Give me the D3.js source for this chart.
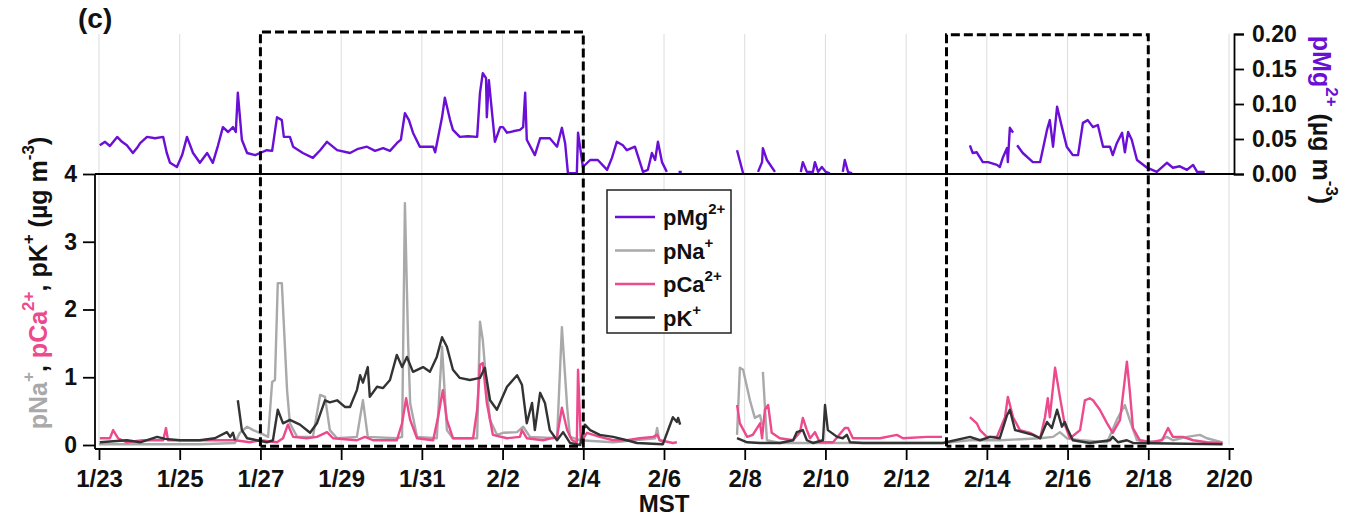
<!DOCTYPE html>
<html>
<head>
<meta charset="utf-8">
<script src="https://cdn.jsdelivr.net/npm/d3@7"></script>
<style>
body { margin: 0; background: #fff; }
text { font-family: "Liberation Sans", Arial, sans-serif; font-weight: bold; }
</style>
</head>
<body>
<svg width="1345" height="521"></svg>
<script>
// time axis: days since 1/23 (MST)
const dayTicks = [0, 2, 4, 6, 8, 10, 12, 14, 16, 18, 20, 22, 24, 26, 28];
const dayLabels = ["1/23", "1/25", "1/27", "1/29", "1/31", "2/2", "2/4", "2/6",
                   "2/8", "2/10", "2/12", "2/14", "2/16", "2/18", "2/20"];
const leftTicks = [0, 1, 2, 3, 4];
const rightTicks = [0, 0.05, 0.10, 0.15, 0.20];

// highlighted periods (days since 1/23)
const periods = [[4, 12], [21, 26]];

// [day, value]; null = gap in the record
const pMg = [
  [0.02,0.041],[0.15,0.046],[0.27,0.040],[0.45,0.053],[0.57,0.046],[0.69,0.041],[0.84,0.030],
  [0.94,0.037],[1.02,0.044],[1.19,0.053],[1.39,0.051],[1.59,0.053],[1.68,0.030],[1.76,0.016],
  [1.93,0.010],[2.06,0.027],[2.18,0.053],[2.33,0.030],[2.50,0.016],[2.68,0.030],[2.82,0.016],
  [2.95,0.041],[3.07,0.067],[3.20,0.060],[3.32,0.067],[3.39,0.060],[3.44,0.116],[3.54,0.049],
  [3.67,0.030],[3.87,0.027],[3.99,0.030],[4.16,0.034],[4.29,0.033],[4.41,0.081],[4.53,0.077],
  [4.58,0.053],[4.73,0.053],[4.81,0.039],[5.05,0.030],[5.30,0.023],[5.48,0.034],[5.65,0.046],
  [5.90,0.034],[6.22,0.030],[6.42,0.036],[6.64,0.039],[6.84,0.033],[7.04,0.037],[7.21,0.033],
  [7.38,0.044],[7.48,0.049],[7.58,0.087],[7.68,0.077],[7.78,0.059],[7.95,0.039],[8.28,0.039],
  [8.33,0.031],[8.50,0.081],[8.57,0.109],[8.70,0.077],[8.77,0.063],[8.94,0.053],[9.14,0.054],
  [9.37,0.053],[9.44,0.116],[9.51,0.144],[9.59,0.137],[9.61,0.081],[9.66,0.134],[9.74,0.087],
  [9.81,0.046],[9.94,0.067],[10.01,0.067],[10.11,0.059],[10.26,0.061],[10.43,0.063],[10.51,0.067],
  [10.56,0.116],[10.60,0.049],[10.80,0.027],[10.93,0.051],[11.17,0.051],[11.35,0.039],[11.47,0.066],
  [11.55,0.044],[11.62,0.001],[11.84,0.001],[11.87,0.059],[11.99,0.010],[12.17,0.020],[12.36,0.020],
  [12.59,0.006],[12.71,0.023],[12.83,0.046],[12.98,0.041],[13.08,0.034],[13.28,0.039],[13.48,0.003],
  [13.60,0.006],[13.70,0.030],[13.78,0.020],[13.85,0.046],[13.95,0.017],[14.07,0.003],null,
  [14.36,0.003],[14.44,0.003],null,
  [15.81,0.034],[15.96,0.001],null,
  [16.33,0.003],[16.43,0.017],[16.45,0.037],[16.55,0.020],[16.75,0.003],null,
  [17.39,0.003],[17.44,0.017],[17.54,0.003],[17.69,0.003],[17.74,0.017],[17.82,0.003],[17.91,0.010],
  [18.01,0.003],[18.11,0.001],null,
  [18.43,0.003],[18.48,0.020],[18.56,0.003],[18.66,0.001],null,
  [21.58,0.041],[21.65,0.030],[21.75,0.031],[21.90,0.017],[22.03,0.017],[22.25,0.013],[22.32,0.010],
  [22.40,0.024],[22.50,0.037],[22.52,0.017],[22.57,0.066],[22.65,0.059],null,
  [22.75,0.041],[22.89,0.030],[23.14,0.017],[23.32,0.017],[23.49,0.063],[23.56,0.077],[23.64,0.039],
  [23.74,0.096],[23.86,0.067],[23.98,0.039],[24.13,0.027],[24.26,0.027],[24.38,0.073],[24.50,0.077],
  [24.63,0.067],[24.75,0.070],[24.88,0.039],[25.05,0.039],[25.12,0.027],[25.22,0.044],[25.35,0.059],
  [25.42,0.031],[25.50,0.060],[25.59,0.049],[25.72,0.020],[25.97,0.009],[26.21,0.003],[26.46,0.016],
  [26.61,0.009],[26.78,0.011],[26.96,0.006],[27.11,0.013],[27.21,0.003],[27.40,0.003]
];

const pNa = [
  [0.00,0.01],[1.26,0.01],[2.50,0.01],[3.37,0.03],[3.49,0.18],[3.67,0.27],[3.82,0.22],[3.99,0.18],
  [4.19,0.12],[4.29,0.93],[4.36,0.96],[4.43,2.39],[4.53,2.39],[4.66,0.81],[4.73,0.32],[4.91,0.12],
  [5.30,0.12],[5.48,0.74],[5.60,0.71],[5.72,0.22],[5.90,0.10],[6.39,0.12],[6.54,0.66],[6.66,0.12],
  [7.38,0.10],[7.51,0.12],[7.58,3.57],[7.66,1.51],[7.71,0.62],[7.88,0.12],[8.37,0.10],[8.50,1.45],
  [8.62,0.22],[8.77,0.10],[9.37,0.10],[9.44,1.82],[9.51,1.55],[9.61,0.81],[9.69,0.37],[9.86,0.15],
  [10.01,0.18],[10.36,0.19],[10.51,0.27],[10.68,0.12],[11.35,0.10],[11.47,1.74],[11.60,0.56],
  [11.67,0.12],[11.92,0.07],[12.74,0.04],[13.78,0.10],[13.83,0.25],[13.88,0.07],[14.00,0.04],null,
  [15.81,0.15],[15.88,1.14],[15.96,1.11],[16.13,0.66],[16.25,0.40],[16.38,0.44],[16.43,0.30],null,
  [16.45,1.08],[16.55,0.07],[16.87,0.03],[17.86,0.03],[18.61,0.03],[20.91,0.03],[21.58,0.07],
  [22.32,0.07],[23.32,0.10],[23.64,0.12],[23.81,0.19],[23.98,0.10],[24.31,0.07],[24.98,0.04],
  [25.22,0.37],[25.42,0.59],[25.54,0.37],[25.72,0.07],[26.21,0.04],[26.46,0.12],[26.61,0.07],
  [26.96,0.12],[27.28,0.15],[27.45,0.10],[27.84,0.04]
];

const pCa = [
  [0.02,0.10],[0.27,0.10],[0.35,0.22],[0.47,0.10],[0.69,0.04],[1.09,0.07],[1.59,0.07],[1.66,0.25],
  [1.71,0.07],[2.33,0.07],[3.37,0.07],[3.74,0.04],[3.99,0.07],[4.41,0.04],[4.56,0.10],[4.68,0.30],
  [4.81,0.12],[5.15,0.10],[5.40,0.12],[5.65,0.19],[5.80,0.10],[6.39,0.07],[6.59,0.12],[6.79,0.07],
  [7.38,0.07],[7.51,0.32],[7.61,0.69],[7.71,0.37],[7.88,0.10],[8.28,0.07],[8.40,0.41],[8.52,0.81],
  [8.62,0.37],[8.77,0.10],[9.27,0.10],[9.37,0.52],[9.44,1.18],[9.51,1.21],[9.61,0.62],[9.76,0.15],
  [10.11,0.10],[10.43,0.12],[10.48,0.22],[10.60,0.10],[11.00,0.07],[11.35,0.12],[11.47,0.55],
  [11.60,0.22],[11.72,0.07],[11.84,0.04],[11.87,1.11],[11.94,0.04],[12.09,0.18],[12.41,0.12],
  [12.74,0.07],[13.08,0.07],[13.40,0.10],[13.73,0.12],[13.83,0.15],[13.90,0.07],[14.22,0.03],
  [14.32,0.04],null,
  [15.81,0.59],[15.88,0.32],[16.06,0.12],[16.20,0.15],[16.38,0.32],[16.43,0.10],[16.50,0.52],
  [16.58,0.59],[16.67,0.18],[16.87,0.10],[17.20,0.07],[17.37,0.19],[17.44,0.40],[17.54,0.22],
  [17.62,0.10],[17.74,0.19],[17.86,0.04],[18.19,0.04],[18.48,0.25],[18.56,0.25],[18.68,0.10],
  [19.35,0.10],[19.77,0.15],[19.92,0.10],[20.52,0.12],[20.89,0.12],null,
  [21.58,0.41],[21.75,0.32],[21.83,0.22],[22.00,0.12],[22.25,0.12],[22.45,0.41],[22.52,0.71],
  [22.65,0.41],[22.82,0.22],[23.07,0.18],[23.32,0.10],[23.44,0.41],[23.51,0.69],[23.56,0.41],
  [23.69,1.14],[23.81,0.71],[23.93,0.30],[24.06,0.10],[24.31,0.22],[24.43,0.66],[24.55,0.69],
  [24.63,0.66],[24.80,0.52],[24.98,0.32],[25.12,0.18],[25.30,0.37],[25.47,1.23],[25.54,0.81],
  [25.62,0.25],[25.79,0.07],[26.04,0.04],[26.34,0.07],[26.49,0.25],[26.61,0.12],[26.86,0.12],
  [27.11,0.07],[27.45,0.04],[27.84,0.03]
];

const pK = [
  [0.02,0.04],[0.69,0.07],[1.02,0.04],[1.44,0.12],[1.64,0.09],[2.01,0.07],[2.50,0.07],[2.87,0.10],
  [3.17,0.19],[3.25,0.12],[3.32,0.18],[3.37,0.07],null,
  [3.44,0.66],[3.54,0.22],[3.67,0.10],[3.91,0.07],[4.16,0.04],[4.31,0.07],[4.43,0.52],[4.56,0.32],
  [4.73,0.37],[4.98,0.30],[5.23,0.18],[5.40,0.32],[5.60,0.66],[5.72,0.63],[5.90,0.66],[6.10,0.56],
  [6.22,0.56],[6.39,0.81],[6.47,1.03],[6.54,0.92],[6.66,1.15],[6.71,0.71],[6.89,0.86],[7.04,0.84],
  [7.21,0.96],[7.38,1.33],[7.51,1.15],[7.63,1.30],[7.78,1.08],[8.03,1.15],[8.20,1.08],[8.37,1.30],
  [8.50,1.59],[8.62,1.45],[8.77,1.11],[8.94,0.99],[9.19,0.96],[9.44,0.99],[9.56,1.14],[9.69,0.66],
  [9.86,0.52],[10.11,0.86],[10.36,1.03],[10.48,0.89],[10.60,0.32],[10.73,0.62],[10.80,0.22],
  [10.93,0.77],[11.05,0.62],[11.17,0.22],[11.35,0.07],[11.50,0.19],[11.67,0.03],[11.92,0.00],
  [12.04,0.30],[12.17,0.22],[12.41,0.15],[12.74,0.12],[13.08,0.07],[13.33,0.03],[13.97,0.01],
  [14.22,0.41],[14.32,0.34],[14.35,0.40],[14.40,0.30],null,
  [15.81,0.10],[16.06,0.04],[16.38,0.03],[16.87,0.03],[17.20,0.07],[17.29,0.19],[17.44,0.22],
  [17.54,0.07],[17.69,0.03],[17.94,0.07],[17.99,0.59],[18.06,0.22],[18.29,0.12],[18.43,0.10],
  [18.53,0.15],[18.61,0.04],[18.93,0.03],[20.91,0.03],[21.58,0.12],[21.83,0.07],[22.08,0.12],
  [22.32,0.10],[22.50,0.44],[22.57,0.52],[22.70,0.22],[22.89,0.19],[23.14,0.15],[23.32,0.10],
  [23.49,0.34],[23.61,0.25],[23.74,0.52],[23.86,0.27],[23.93,0.34],[24.01,0.22],[24.13,0.07],
  [24.55,0.03],[25.05,0.07],[25.12,0.12],[25.25,0.04],[25.47,0.07],[25.62,0.03],[27.84,0.01]
];

const seriesNames = ["pMg", "pNa", "pCa", "pK"];
const seriesSup = ["2+", "+", "2+", "+"];
const colors = { pMg: "#6a0fd6", pNa: "#a9a9a9", pCa: "#ec4a8c", pK: "#333333" };

const svg = d3.select("svg");

const x = d3.scaleLinear().domain([0, 28]).range([99, 1229]);
const yLo = d3.scaleLinear().domain([0, 4]).range([445, 174]);
const yMg = d3.scaleLinear().domain([0, 0.2]).range([174, 34]);

const axisY = 449;   // offset bottom axis
const leftX = 95;
const rightX = 1234;

// vertical grid
svg.append("g").selectAll("line")
  .data(dayTicks).enter().append("line")
  .attr("x1", d => x(d)).attr("x2", d => x(d))
  .attr("y1", yMg(0.2)).attr("y2", yLo(0))
  .attr("stroke", "#dcdcdc").attr("stroke-width", 1);

// data lines
const lineLo = d3.line().defined(d => d !== null).x(d => x(d[0])).y(d => yLo(d[1]));
const lineMg = d3.line().defined(d => d !== null).x(d => x(d[0])).y(d => yMg(d[1]));

[["pNa", pNa], ["pCa", pCa], ["pK", pK]].forEach(([name, data]) => {
  svg.append("path").datum(data)
    .attr("d", lineLo)
    .attr("fill", "none")
    .attr("stroke", colors[name])
    .attr("stroke-width", 2.4)
    .attr("stroke-linejoin", "round");
});

svg.append("path").datum(pMg)
  .attr("d", lineMg)
  .attr("fill", "none")
  .attr("stroke", colors.pMg)
  .attr("stroke-width", 2.4)
  .attr("stroke-linejoin", "round");

// zero line of the upper panel
svg.append("line")
  .attr("x1", leftX).attr("x2", rightX)
  .attr("y1", yMg(0)).attr("y2", yMg(0))
  .attr("stroke", "#000").attr("stroke-width", 1.8);

// bottom axis
const xAxis = d3.axisBottom(x).tickValues(dayTicks)
  .tickFormat((d, i) => dayLabels[i]).tickSizeOuter(0).tickSize(11).tickPadding(10);
const gx = svg.append("g").attr("transform", `translate(0,${axisY})`).call(xAxis);
gx.select(".domain").attr("d", `M${leftX},0H${rightX}`).attr("stroke-width", 1.8);
gx.selectAll(".tick line").attr("stroke-width", 1.8);
gx.selectAll("text").attr("font-size", 24).attr("fill", "#111")
  .attr("font-family", "Liberation Sans, Arial, sans-serif").attr("font-weight", "bold");

svg.append("text")
  .attr("x", x(14)).attr("y", 512)
  .attr("text-anchor", "middle").attr("font-size", 24).attr("fill", "#111")
  .text("MST");

// left axis
const yAxisL = d3.axisLeft(yLo).tickValues(leftTicks).tickFormat(d3.format("d"))
  .tickSizeOuter(0).tickSize(12).tickPadding(6);
const gl = svg.append("g").attr("transform", `translate(${leftX},0)`).call(yAxisL);
gl.select(".domain").attr("d", `M0,${yLo(4)}V${axisY}`).attr("stroke-width", 1.8);
gl.selectAll(".tick line").attr("stroke-width", 1.8);
gl.selectAll("text").attr("font-size", 23).attr("fill", "#111")
  .attr("font-family", "Liberation Sans, Arial, sans-serif").attr("font-weight", "bold");

// right axis (pMg)
const yAxisR = d3.axisRight(yMg).tickValues(rightTicks).tickFormat(d3.format(".2f"))
  .tickSizeOuter(0).tickSize(10).tickPadding(8);
const gr = svg.append("g").attr("transform", `translate(${rightX},0)`).call(yAxisR);
gr.select(".domain").attr("stroke-width", 1.8);
gr.selectAll(".tick line").attr("stroke-width", 1.8);
gr.selectAll("text").attr("font-size", 23).attr("fill", "#111")
  .attr("font-family", "Liberation Sans, Arial, sans-serif").attr("font-weight", "bold");

// dashed boxes marking the two periods
svg.append("g").selectAll("path")
  .data(periods).enter().append("path")
  .attr("d", (d, i) => {
    const top = yMg(i === 0 ? 0.203 : 0.199), bot = yLo(-0.02);
    return `M${x(d[0])},${bot}V${top}H${x(d[1])}V${bot}H${x(d[0])}`;
  })
  .attr("fill", "none").attr("stroke", "#000")
  .attr("stroke-width", 3).attr("stroke-dasharray", "9,4");

// legend
const lg = svg.append("g").attr("transform", "translate(607,190)");
lg.append("rect").attr("width", 124).attr("height", 143)
  .attr("fill", "#fff").attr("stroke", "#222").attr("stroke-width", 1.5);
const items = lg.selectAll("g.item").data(seriesNames).enter().append("g")
  .attr("transform", (d, i) => `translate(0,${27 + i * 33.5})`);
items.append("line").attr("x1", 8).attr("x2", 48)
  .attr("stroke", d => colors[d]).attr("stroke-width", 2.6);
const lt = items.append("text").attr("x", 56).attr("y", 8)
  .attr("font-size", 22).attr("fill", "#111");
lt.append("tspan").text(d => d);
lt.append("tspan").attr("dy", -11).attr("font-size", 15).text((d, i) => seriesSup[i]);

// left axis title
const tl = svg.append("text")
  .attr("transform", "translate(47,283) rotate(-90)")
  .attr("text-anchor", "middle").attr("font-size", 25).attr("fill", "#111");
const leftParts = [
  ["pNa", colors.pNa, 0], ["+", colors.pNa, 1], [", ", "#111", 0],
  ["pCa", colors.pCa, 0], ["2+", colors.pCa, 1], [", pK", "#111", 0],
  ["+", "#111", 1], [" (µg m", "#111", 0], ["-3", "#111", 1], [")", "#111", 0]
];
leftParts.forEach(([t, c, sup], i) => {
  const prevSup = i > 0 && leftParts[i - 1][2];
  tl.append("tspan").attr("fill", c)
    .attr("dy", sup ? -13 : (prevSup ? 13 : 0))
    .attr("font-size", sup ? 17 : 25).text(t);
});

// right axis title
const tr = svg.append("text")
  .attr("transform", "translate(1313,120) rotate(90)")
  .attr("text-anchor", "middle").attr("font-size", 25).attr("fill", "#111");
const rightParts = [
  ["pMg", colors.pMg, 0], ["2+", colors.pMg, 1], [" (µg m", "#111", 0], ["-3", "#111", 1], [")", "#111", 0]
];
rightParts.forEach(([t, c, sup], i) => {
  const prevSup = i > 0 && rightParts[i - 1][2];
  tr.append("tspan").attr("fill", c)
    .attr("dy", sup ? -13 : (prevSup ? 13 : 0))
    .attr("font-size", sup ? 17 : 25).text(t);
});

// panel tag
svg.append("text").attr("x", 78).attr("y", 28)
  .attr("font-size", 28).attr("fill", "#111").text("(c)");
</script>
</body>
</html>
